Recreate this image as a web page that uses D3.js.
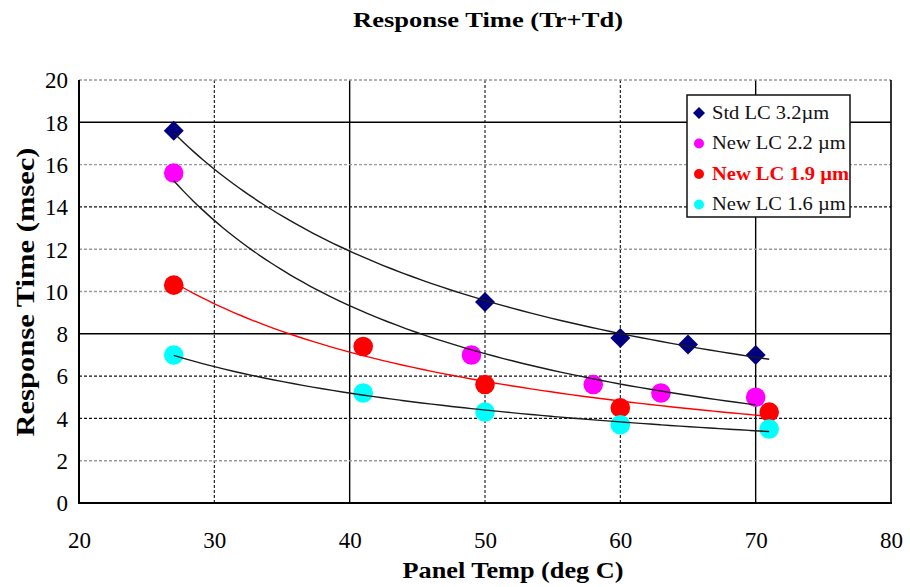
<!DOCTYPE html>
<html><head><meta charset="utf-8">
<script src="https://cdn.jsdelivr.net/npm/d3@7"></script>
<style>body{margin:0;background:#fff;} svg{display:block;}</style>
</head><body>
<svg id="chart" width="910" height="587"></svg>
<script>
// ---- data ----
const seriesNames = ["Std LC 3.2\u00b5m", "New LC 2.2 \u00b5m", "New LC 1.9 \u00b5m", "New LC 1.6 \u00b5m"];
const stdX = [27, 50, 60, 65, 70];
const stdY = [17.6, 9.5, 7.8, 7.5, 7.0];
const lc22X = [27, 49, 58, 63, 70];
const lc22Y = [15.6, 7.0, 5.6, 5.2, 5.0];
const lc19X = [27, 41, 50, 60, 71];
const lc19Y = [10.3, 7.4, 5.6, 4.5, 4.3];
const lc16X = [27, 41, 50, 60, 71];
const lc16Y = [7.0, 5.2, 4.3, 3.7, 3.5];
const trendRange = [[27, 71], [27, 70], [27, 71], [27, 71]];
const xTicks = [20, 30, 40, 50, 60, 70, 80];
const yTicks = [0, 2, 4, 6, 8, 10, 12, 14, 16, 18, 20];

const seriesX = [stdX, lc22X, lc19X, lc16X];
const seriesY = [stdY, lc22Y, lc19Y, lc16Y];
const colors = ["#000080", "#ff00ff", "#ff0000", "#00ffff"];
const shapes = ["diamond", "circle", "circle", "circle"];
const lineColors = ["#1a1a1a", "#1a1a1a", "#ff0000", "#1a1a1a"];

// ---- layout ----
const svg = d3.select("#chart");
const L = 79, R = 891, T = 80, B = 503;
const x = d3.scaleLinear().domain([20, 80]).range([L, R]);
const y = d3.scaleLinear().domain([0, 20]).range([B, T]);
const serif = "Liberation Serif";

// grid styles per tick
const vStyle = {30: "dk", 40: "solid", 50: "dk", 60: "dk", 70: "solid"};
const hStyle = {2: "gray", 4: "dk", 6: "dk", 8: "solid", 10: "gray", 12: "gray", 14: "dk", 16: "gray", 18: "solid", 20: "gray"};
function styleLine(sel, s) {
  if (s === "solid") sel.attr("stroke", "#000").attr("stroke-width", 1.4);
  else if (s === "dk") sel.attr("stroke", "#111").attr("stroke-width", 1.1).attr("stroke-dasharray", "3,2");
  else sel.attr("stroke", "#9a9a9a").attr("stroke-width", 1.4).attr("stroke-dasharray", "3,2");
}
const grid = svg.append("g");
xTicks.filter(v => vStyle[v]).forEach(v => {
  grid.append("line").attr("x1", x(v)).attr("x2", x(v)).attr("y1", T).attr("y2", B).call(styleLine, vStyle[v]);
});
yTicks.filter(v => hStyle[v]).forEach(v => {
  grid.append("line").attr("x1", L).attr("x2", R).attr("y1", y(v)).attr("y2", y(v)).call(styleLine, hStyle[v]);
});
// border
svg.append("line").attr("x1", L).attr("x2", L).attr("y1", T).attr("y2", B + 1).attr("stroke", "#000").attr("stroke-width", 2);
svg.append("line").attr("x1", L - 1).attr("x2", R + 1).attr("y1", B).attr("y2", B).attr("stroke", "#000").attr("stroke-width", 2);
svg.append("line").attr("x1", R).attr("x2", R).attr("y1", T).attr("y2", B).attr("stroke", "#000").attr("stroke-width", 1.6);

// axes tick labels
const xAxis = d3.axisBottom(x).tickValues(xTicks).tickSize(0).tickPadding(0);
const gx = svg.append("g").attr("transform", `translate(0,${B})`).call(xAxis);
gx.select(".domain").remove();
gx.attr("font-family", serif).attr("font-size", 23);
gx.selectAll("text").attr("fill", "#000").attr("dy", null).attr("y", 45);
const yAxis = d3.axisLeft(y).tickValues(yTicks).tickSize(0).tickPadding(0);
const gy = svg.append("g").attr("transform", `translate(${L},0)`).call(yAxis);
gy.select(".domain").remove();
gy.attr("font-family", serif).attr("font-size", 23);
gy.selectAll("text").attr("fill", "#000").attr("x", -11).attr("dy", "0.34em");

// titles
svg.append("text").attr("x", 488).attr("y", 27).attr("text-anchor", "middle")
  .attr("font-family", serif).attr("font-weight", "bold").attr("font-size", 22)
  .attr("textLength", 270).attr("lengthAdjust", "spacingAndGlyphs").text("Response Time (Tr+Td)");
svg.append("text").attr("x", 513).attr("y", 578).attr("text-anchor", "middle")
  .attr("font-family", serif).attr("font-weight", "bold").attr("font-size", 24)
  .attr("textLength", 221).attr("lengthAdjust", "spacingAndGlyphs").text("Panel Temp (deg C)");
svg.append("text").attr("transform", "translate(34,292) rotate(-90)").attr("text-anchor", "middle")
  .attr("font-family", serif).attr("font-weight", "bold").attr("font-size", 26)
  .attr("textLength", 289).attr("lengthAdjust", "spacingAndGlyphs").text("Response Time (msec)");

// markers
function drawMarker(g, shape, color, cx, cy, size) {
  if (shape === "diamond") {
    const h = size;
    g.append("path").attr("d", `M${cx},${cy - h}L${cx + h},${cy}L${cx},${cy + h}L${cx - h},${cy}Z`).attr("fill", color);
  } else {
    g.append("circle").attr("cx", cx).attr("cy", cy).attr("r", size).attr("fill", color);
  }
}
const mk = svg.append("g");
seriesX.forEach((xs, i) => {
  xs.forEach((xv, j) => drawMarker(mk, shapes[i], colors[i], x(xv), y(seriesY[i][j]), shapes[i] === "diamond" ? 10 : 9.8));
});

// power-law trend lines (least squares on log-log)
function powerFit(xs, ys) {
  const lx = xs.map(Math.log), ly = ys.map(Math.log);
  const mx = d3.mean(lx), my = d3.mean(ly);
  let sxy = 0, sxx = 0;
  lx.forEach((v, k) => { sxy += (v - mx) * (ly[k] - my); sxx += (v - mx) * (v - mx); });
  const b = sxy / sxx, a = Math.exp(my - b * mx);
  return t => a * Math.pow(t, b);
}
const line = d3.line().x(d => x(d[0])).y(d => y(d[1])).curve(d3.curveBasis);
seriesX.forEach((xs, i) => {
  const f = powerFit(xs, seriesY[i]);
  const [t0, t1] = trendRange[i];
  const pts = d3.range(0, 61).map(k => { const t = t0 + (t1 - t0) * k / 60; return [t, f(t)]; });
  svg.append("path").attr("d", line(pts)).attr("fill", "none").attr("stroke", lineColors[i]).attr("stroke-width", 1.4);
});

// legend
const lg = svg.append("g");
lg.append("rect").attr("x", 687).attr("y", 95).attr("width", 163).attr("height", 122)
  .attr("fill", "#fff").attr("stroke", "#111").attr("stroke-width", 1.5);
seriesNames.forEach((name, i) => {
  const cy = 113 + i * 30.5;
  drawMarker(lg, shapes[i], colors[i], 699, cy, shapes[i] === "diamond" ? 6 : 5);
  lg.append("text").attr("x", 712).attr("y", cy + 6)
    .attr("transform", `translate(712,0) scale(1.08,1) translate(-712,0)`)
    .attr("font-family", serif).attr("font-size", 19)
    .attr("font-weight", i === 2 ? "bold" : "normal")
    .attr("fill", i === 2 ? "#ff0000" : "#111").text(name);
});
</script>
</body></html>
